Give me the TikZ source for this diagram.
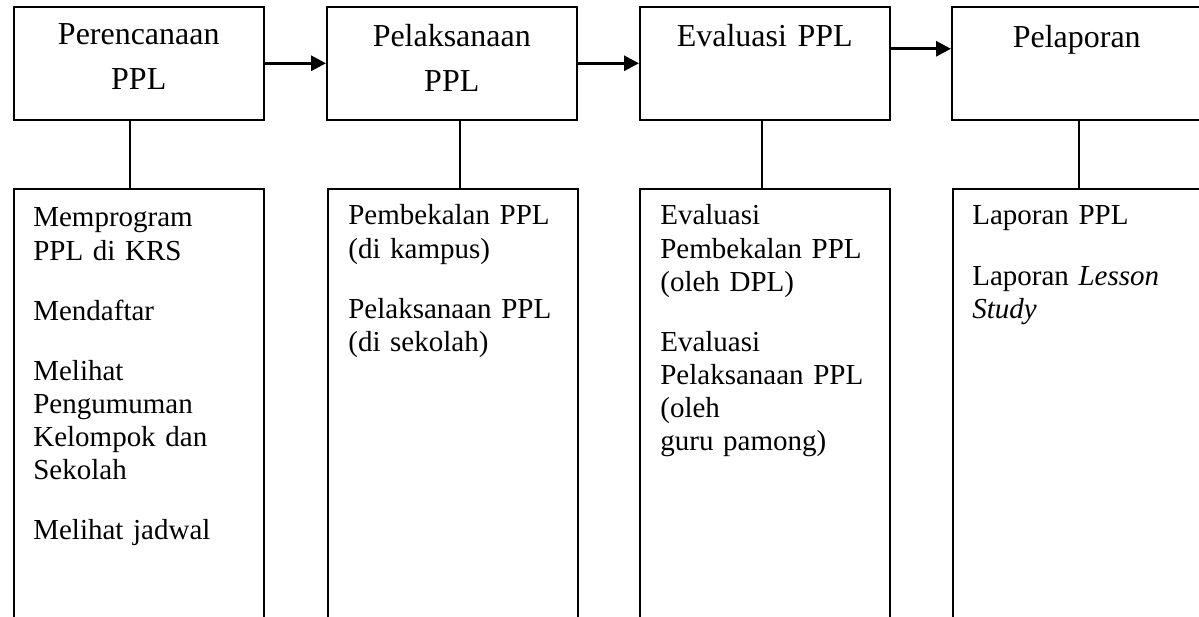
\documentclass[tikz,border=0pt]{standalone}
\usepackage{fontspec}
\setmainfont{Liberation Serif}
\usetikzlibrary{arrows.meta}
\tikzset{
  topbox/.style={draw, line width=0.9pt, anchor=north west, minimum width=5cm, minimum height=2.26cm, inner sep=0pt},
  subbox/.style={topbox, minimum height=9cm},
  toplabel/.style={anchor=base, text width=5cm, align=center, inner sep=0pt, font=\fontsize{18.2}{25.6}\selectfont},
  sublabel/.style={anchor=base west, text width=4.4cm, align=left, inner sep=0pt, font=\fontsize{16.5}{18.8}\selectfont},
  flow/.style={line width=1.7pt, -{Triangle[length=0.3cm,width=0.3cm]}},
  link/.style={line width=0.9pt}
}

\begin{document}
\begin{tikzpicture}[x=0.02cm, y=-0.02cm]
  \useasboundingbox (0,0) rectangle (1199,617);
  \clip (0,0) rectangle (1199,617);

  % tahap utama
  \node[topbox] (plan) at (13,6) {};
  \node[topbox] (exec) at (326,6) {};
  \node[topbox] (eval) at (639,6) {};
  \node[topbox] (report) at (951,6) {};

  \node[toplabel] (planlbl) at ([yshift=-0.78cm]plan.north) {Perencanaan\\PPL};
  \node[toplabel] (execlbl) at ([yshift=-0.82cm]exec.north) {Pelaksanaan\\PPL};
  \node[toplabel] (evallbl) at ([yshift=-0.82cm]eval.north) {Evaluasi PPL};
  \node[toplabel] (reportlbl) at ([yshift=-0.84cm]report.north) {Pelaporan};

  % rincian kegiatan
  \node[subbox] (sub1) at (13,188) {};
  \node[subbox] (sub2) at (327,188) {};
  \node[subbox] (sub3) at (639,188) {};
  \node[subbox] (sub4) at (952,188) {};

  \node[sublabel] (sub1lbl) at ([xshift=0.4cm,yshift=-0.78cm]sub1.north west)
    {Memprogram\\PPL di KRS\\[15.4pt]Mendaftar\\[15.4pt]Melihat\\Pengumuman\\Kelompok dan\\Sekolah\\[15.4pt]Melihat jadwal};
  \node[sublabel] (sub2lbl) at ([xshift=0.42cm,yshift=-0.74cm]sub2.north west)
    {Pembekalan PPL\\(di kampus)\\[15.4pt]Pelaksanaan PPL\\(di sekolah)};
  \node[sublabel] (sub3lbl) at ([xshift=0.42cm,yshift=-0.74cm]sub3.north west)
    {Evaluasi\\Pembekalan PPL\\(oleh DPL)\\[15.4pt]Evaluasi\\Pelaksanaan PPL\\(oleh\\guru pamong)};
  \node[sublabel] (sub4lbl) at ([xshift=0.4cm,yshift=-0.74cm]sub4.north west)
    {Laporan PPL\\[15.4pt]Laporan \textit{Lesson}\\\textit{Study}};

  % alur
  \draw[flow] (plan.east) -- (exec.west);
  \draw[flow] (exec.east) -- (eval.west);
  \draw[flow] ([yshift=0.29cm]eval.east) -- ([yshift=0.29cm]eval.east -| report.west);

  \draw[link] ([xshift=-0.18cm]plan.south) -- ([xshift=-0.18cm]plan.south |- sub1.north);
  \draw[link] ([xshift=0.17cm]exec.south) -- ([xshift=0.17cm]exec.south |- sub2.north);
  \draw[link] ([xshift=-0.06cm]eval.south) -- ([xshift=-0.06cm]eval.south |- sub3.north);
  \draw[link] ([xshift=0.04cm]report.south) -- ([xshift=0.04cm]report.south |- sub4.north);
\end{tikzpicture}
\end{document}
